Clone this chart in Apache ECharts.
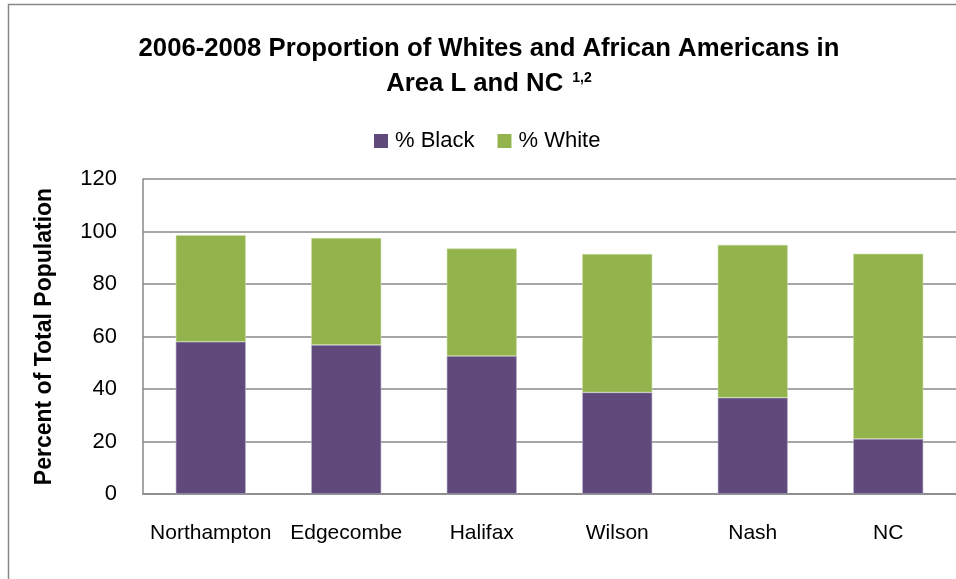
<!DOCTYPE html>
<html>
<head>
<meta charset="utf-8">
<script src="https://cdn.jsdelivr.net/npm/echarts@6/dist/echarts.min.js"></script>
<style>
html,body{margin:0;padding:0;background:#fff;}
#chart{width:956px;height:579px;}
</style>
</head>
<body>
<div id="chart"></div>
<script>
const categories = ['Northampton', 'Edgecombe', 'Halifax', 'Wilson', 'Nash', 'NC'];
const pctBlack = [58.0, 56.8, 52.6, 38.7, 36.7, 21.0];
const pctWhite = [40.6, 40.7, 40.9, 52.7, 58.2, 70.5];
const yTicks = [0, 20, 40, 60, 80, 100, 120];

const FONT = "'Liberation Sans', 'DejaVu Sans', sans-serif";
const chart = echarts.init(document.getElementById('chart'), null, {renderer: 'canvas'});
chart.setOption({
  backgroundColor: '#ffffff',
  animation: false,
  textStyle: {fontFamily: FONT},
  title: {
    left: 484,
    textAlign: 'center',
    top: 26,
    text: '2006-2008 Proportion of Whites and African Americans in\nArea L and NC {sup|1,2}',
    textStyle: {
      fontFamily: FONT,
      fontSize: 25.7,
      fontWeight: 'bold',
      color: '#000',
      lineHeight: 35,
      rich: {
        sup: {fontFamily: FONT, fontSize: 14, fontWeight: 'bold', color: '#000', lineHeight: 14, verticalAlign: 'top', padding: [5, 0, 0, 2]}
      }
    }
  },
  legend: {
    top: 130,
    left: 374,
    padding: 0,
    itemWidth: 14,
    itemHeight: 14,
    itemGap: 23,
    icon: 'rect',
    itemStyle: {borderWidth: 0},
    textStyle: {fontFamily: FONT, fontSize: 22, color: '#000', padding: [0, 0, 0, 2]},
    data: ['% Black', '% White']
  },
  graphic: [{
    type: 'rect',
    shape: {x: 8.5, y: 4.5, width: 1000, height: 1000},
    style: {fill: 'none', stroke: '#888888', lineWidth: 1.5},
    silent: true,
    z: -1
  }],
  grid: {left: 143, top: 179, width: 825, height: 315, containLabel: false},
  xAxis: {
    type: 'category',
    data: categories,
    axisLine: {show: true, lineStyle: {color: '#888888', width: 1.5}},
    axisTick: {show: false},
    axisLabel: {fontFamily: FONT, fontSize: 21, color: '#000', margin: 29, interval: 0}
  },
  yAxis: {
    type: 'value',
    min: 0,
    max: 120,
    interval: 20,
    name: 'Percent of Total Population',
    nameLocation: 'middle',
    nameGap: 87,
    nameRotate: 90,
    nameTextStyle: {fontFamily: FONT, fontSize: 23, fontWeight: 'bold', color: '#000'},
    axisLine: {show: true, lineStyle: {color: '#888888', width: 1.5}},
    axisTick: {show: false},
    splitLine: {show: true, lineStyle: {color: '#888888', width: 1.5}},
    axisLabel: {
      fontFamily: FONT, fontSize: 22, color: '#000', margin: 26,
      formatter: function (v) { return yTicks.indexOf(v) >= 0 ? String(v) : ''; }
    }
  },
  series: [
    {
      name: '% Black', type: 'bar', stack: 'total', data: pctBlack, barWidth: 70,
      itemStyle: {color: '#604A7B', borderColor: '#b8aec9', borderWidth: 0.6}
    },
    {
      name: '% White', type: 'bar', stack: 'total', data: pctWhite, barWidth: 70,
      itemStyle: {color: '#93B44C', borderColor: '#c9dca3', borderWidth: 0.6}
    }
  ]
});
</script>
</body>
</html>
